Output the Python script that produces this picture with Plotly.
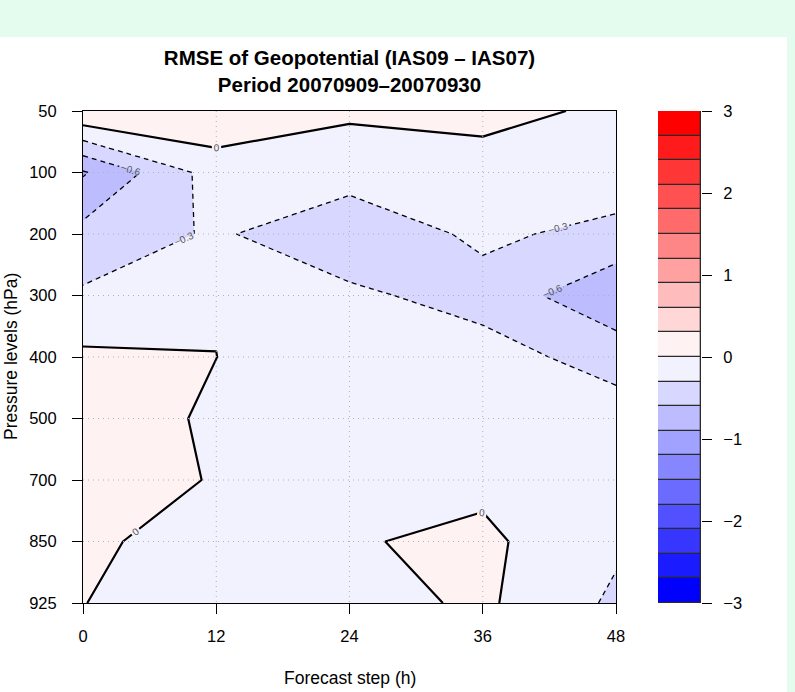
import plotly.graph_objects as go

# ---------------- data ----------------
steps = [0, 12, 24, 36, 48]                                # forecast step (h)
levels = [50, 100, 200, 300, 400, 500, 700, 850, 925]      # pressure levels (hPa)

# RMSE difference (IAS09 - IAS07) of geopotential, one list per level, values per step
diff_50 = [0.28, 0.24, 0.043, 0.10, -0.06]
diff_100 = [-0.93, -0.16, -0.163, -0.14, -0.082]
diff_200 = [-0.507, -0.259, -0.532, -0.231, -0.408]
diff_300 = [-0.258, -0.01, -0.235, -0.43, -0.808]
diff_400 = [0.053, 0.001, -0.15, -0.16, -0.443]
diff_500 = [0.12, -0.032, -0.12, -0.12, -0.132]
diff_700 = [0.15, -0.0185, -0.10, -0.065, -0.12]
diff_850 = [0.06, -0.14, -0.022, 0.06, -0.25]
diff_925 = [0.005, -0.15, -0.117, 0.05, -0.353]

breaks = [-3.0, -2.7, -2.4, -2.1, -1.8, -1.5, -1.2, -0.9, -0.6, -0.3, 0.0,
          0.3, 0.6, 0.9, 1.2, 1.5, 1.8, 2.1, 2.4, 2.7, 3.0]
cbar_ticks = [-3, -2, -1, 0, 1, 2, 3]

z = [diff_50, diff_100, diff_200, diff_300, diff_400, diff_500, diff_700, diff_850, diff_925]
ypos = list(range(len(levels)))


# ---------------- colours (blue-white-red ramp) ----------------
def ramp(n):
    out = []
    for i in range(n):
        t = i / (n - 1)
        if t <= 0.5:
            v = round(255 * t / 0.5)
            out.append(f"rgb({v},{v},255)")
        else:
            v = round(255 * (1 - t) / 0.5)
            out.append(f"rgb(255,{v},{v})")
    return out


nb = len(breaks) - 1
band_cols = ramp(nb)
N = len(breaks)
cscale = []
for k, c in enumerate(band_cols):
    lo = 0 if k == 0 else (k + 0.5) / N
    hi = 1 if k == nb - 1 else (k + 1.5) / N
    cscale.append([lo, c])
    cscale.append([hi, c])

size = round(breaks[1] - breaks[0], 6)
FONT = "Liberation Sans, Arial, Helvetica, sans-serif"

fig = go.Figure()

# filled contours
fig.add_trace(go.Contour(
    x=steps, y=ypos, z=z,
    colorscale=cscale, showscale=False,
    autocontour=False,
    contours=dict(start=breaks[0], end=breaks[-1], size=size,
                  coloring="fill", showlines=False),
    line=dict(smoothing=0, width=0),
    hoverinfo="skip",
))

# negative contour lines (dashed)
fig.add_trace(go.Contour(
    x=steps, y=ypos, z=z, showscale=False, autocontour=False,
    contours=dict(start=breaks[0], end=-size, size=size, coloring="none",
                  showlabels=True,
                  labelfont=dict(size=10, color="#555555", family=FONT)),
    line=dict(smoothing=0, width=1.3, color="black", dash="5px,4px"),
    hoverinfo="skip",
))

# zero contour line (solid)
fig.add_trace(go.Contour(
    x=steps, y=ypos, z=z, showscale=False, autocontour=False,
    contours=dict(start=0, end=0, size=size, coloring="none",
                  showlabels=True,
                  labelfont=dict(size=10, color="#555555", family=FONT)),
    line=dict(smoothing=0, width=2.2, color="black"),
    hoverinfo="skip",
))

# colour key drawn as stacked bars
fig.add_trace(go.Bar(
    x=[0] * nb, y=[round(breaks[i + 1] - breaks[i], 6) for i in range(nb)],
    base=breaks[:-1], width=1,
    marker=dict(color=band_cols, line=dict(color="#2a2a2a", width=1.3)),
    xaxis="x2", yaxis="y2", showlegend=False, hoverinfo="skip",
))

# page geometry
W, H = 795, 692
ml, mr, mt, mb = 83, 40, 111, 89
pw = W - ml - mr
ph = H - mt - mb
plot_right = 616
cb_left, cb_right = 658, 701


def px_x(p):
    return (p - ml) / pw


def px_y(p):
    return (H - mb - p) / ph


shapes = [
    dict(type="rect", xref="paper", yref="paper", layer="below",
         x0=px_x(0), x1=px_x(787), y0=px_y(692), y1=px_y(37),
         fillcolor="white", line=dict(width=0)),
]
for s in steps[1:-1]:
    shapes.append(dict(type="line", xref="x", yref="y", x0=s, x1=s,
                       y0=ypos[0], y1=ypos[-1], layer="above",
                       line=dict(color="#b0b0b0", width=1, dash="1px,4px")))
for yp in ypos[1:-1]:
    shapes.append(dict(type="line", xref="x", yref="y", x0=steps[0], x1=steps[-1],
                       y0=yp, y1=yp, layer="above",
                       line=dict(color="#b0b0b0", width=1, dash="1px,4px")))

annotations = [
    dict(text="Forecast step (h)", xref="paper", yref="paper",
         x=px_x(349.5), y=px_y(678), xanchor="center", yanchor="middle",
         showarrow=False, font=dict(size=17.5, family=FONT, color="black")),
    dict(text="Pressure levels (hPa)", xref="paper", yref="paper",
         x=px_x(11), y=px_y(357), xanchor="center", yanchor="middle",
         textangle=-90, showarrow=False, font=dict(size=17.5, family=FONT, color="black")),
]

fig.update_layout(
    width=W, height=H,
    margin=dict(l=ml, r=mr, t=mt, b=mb, autoexpand=False),
    paper_bgcolor="#e4fcee", plot_bgcolor="white",
    font=dict(family=FONT, size=16.5, color="black"),
    showlegend=False,
    shapes=shapes,
    annotations=annotations,
    title=dict(text="<b>RMSE of Geopotential (IAS09 – IAS07)</b><br><b>Period 20070909–20070930</b>",
               x=px_x(349.5), xref="paper", xanchor="center",
               y=1 - 65 / H, yref="container", yanchor="top",
               font=dict(size=20.5, family=FONT, color="black")),
    xaxis=dict(domain=[0, px_x(plot_right)], range=[steps[0], steps[-1]],
               tickvals=steps, ticktext=[str(s) for s in steps],
               ticks="outside", ticklen=10, tickcolor="black",
               showline=True, linecolor="black", linewidth=1, mirror=True,
               showgrid=False, zeroline=False, ticklabelstandoff=8,
               automargin=False),
    yaxis=dict(range=[ypos[-1], ypos[0]],
               tickvals=ypos, ticktext=[str(l) for l in levels],
               ticks="outside", ticklen=10, tickcolor="black",
               showline=True, linecolor="black", linewidth=1, mirror=True,
               showgrid=False, zeroline=False, ticklabelstandoff=12,
               automargin=False),
    xaxis2=dict(domain=[px_x(cb_left), px_x(cb_right)], range=[-0.5, 0.5],
                anchor="y2", visible=False, automargin=False),
    yaxis2=dict(domain=[0, 1], range=[breaks[0], breaks[-1]], anchor="x2", side="right",
                tickvals=cbar_ticks,
                ticktext=[str(t).replace("-", "−") for t in cbar_ticks],
                ticks="outside", ticklen=10, tickcolor="black",
                showline=False, showgrid=False, zeroline=False,
                ticklabelstandoff=8, automargin=False),
    bargap=0,
)

fig.write_html("out.html")
